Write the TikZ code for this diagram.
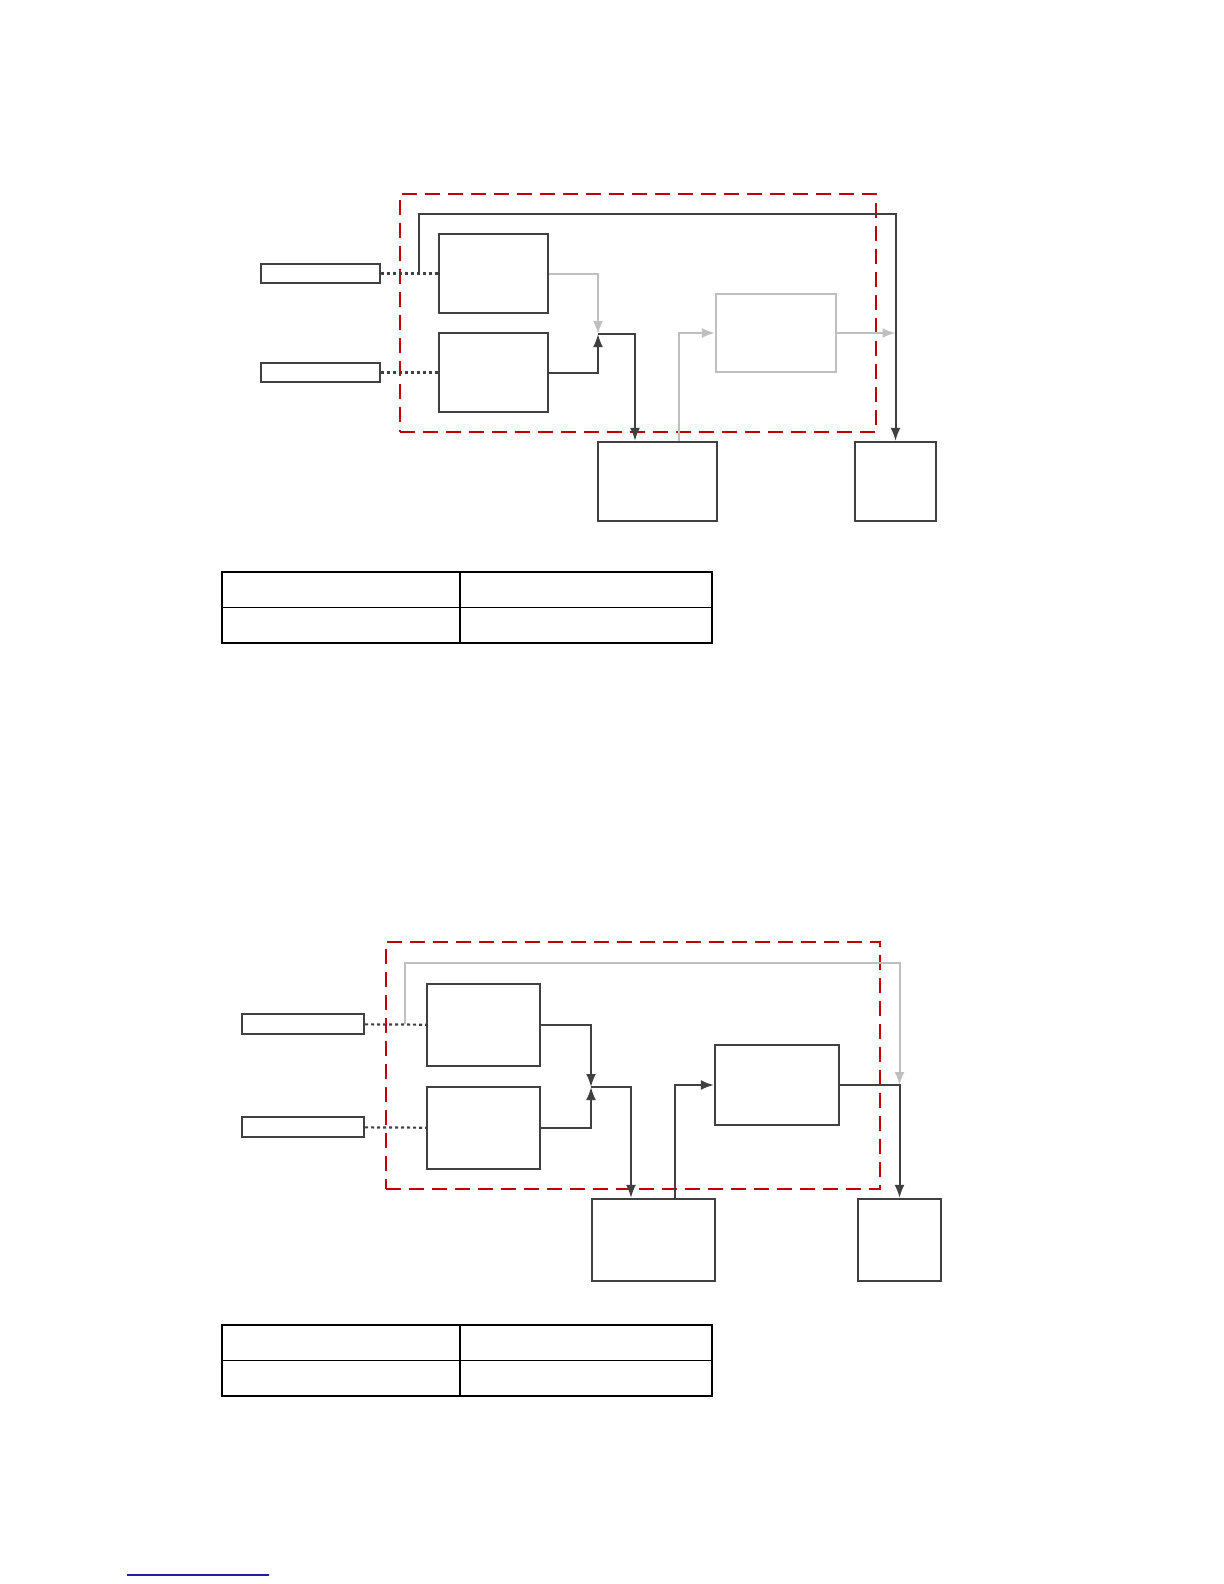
\documentclass[tikz,border=0pt]{standalone}
\usepackage{xcolor}
\usepackage{tikz}
\usetikzlibrary{arrows.meta,positioning}
\definecolor{linedark}{HTML}{404040}
\definecolor{linegray}{HTML}{BFBFBF}
\definecolor{framered}{HTML}{C00000}
\definecolor{linkblue}{HTML}{1F1F99}
\tikzset{
  blk/.style={rectangle,draw=linedark,line width=1.1pt,fill=white,inner sep=0pt},
  gblk/.style={blk,draw=linegray},
  inbar/.style={blk,minimum width=59.5pt,minimum height=9.5pt},
  frame/.style={rectangle,draw=framered,line width=1.1pt,dash pattern=on 7.5pt off 4pt,inner sep=0pt},
  tab/.style={rectangle,draw=black,line width=0.8pt,inner sep=0pt,minimum width=245pt,minimum height=35.5pt},
  arr/.style={-{Latex[length=6.5pt,width=5pt]},linedark,line width=1pt},
  garr/.style={arr,linegray},
  dots/.style={linedark,line width=1.1pt,dash pattern=on 1.5pt off 1.5pt},
}
\begin{document}
\begin{tikzpicture}[x=0.5pt,y=-0.5pt]
  \useasboundingbox (0,0) rectangle (1224,1584);
  % upper diagram
  \node[frame,minimum width=238pt,minimum height=119pt] (fr1) at (638,313) {};
  \node[inbar] (ia1) at (320.5,273.5) {};
  \node[inbar] (ib1) at (320.5,372.5) {};
  \node[blk,minimum width=54.5pt,minimum height=39.5pt] (a1) at (493.5,273.5) {};
  \node[blk,minimum width=54.5pt,minimum height=39.5pt] (b1) at (493.5,372.5) {};
  \node[gblk,minimum width=60pt,minimum height=39pt] (d1) at (776,333) {};
  \node[blk,minimum width=59.5pt,minimum height=39.5pt] (c1) at (657.5,481.5) {};
  \node[blk,minimum width=40.5pt,minimum height=39.5pt] (e1) at (895.5,481.5) {};
  \coordinate (j1) at (598,334);
  \coordinate (s1) at (419,273.5);
  \coordinate (tr1) at (895.5,214);
  \draw[dots] (ia1) -- (a1);
  \draw[dots] (ib1) -- (b1);
  \draw[arr] (s1) |- (tr1) -- (e1);
  \draw[garr] (a1.east) -| (j1);
  \draw[arr] (b1.east) -| (j1);
  \draw[arr] (j1) -| ([xshift=-11.25pt]c1.north);
  \draw[garr] ([xshift=10.75pt]c1.north) |- (d1.west);
  \draw[garr] (d1.east) -- (d1.east -| tr1);
  % upper table
  \node[tab] (tab1) at (467,607.5) {};
  \draw[line width=0.8pt] (tab1.west) -- (tab1.east);
  \draw[line width=0.8pt] ([xshift=-3.5pt]tab1.north) -- ([xshift=-3.5pt]tab1.south);
  % lower diagram
  \node[frame,minimum width=247pt,minimum height=123.5pt] (fr2) at (633,1065.5) {};
  \node[inbar,minimum width=61pt,minimum height=10pt] (ia2) at (303,1024) {};
  \node[inbar,minimum width=61pt,minimum height=10pt] (ib2) at (303,1127) {};
  \node[blk,minimum width=56.5pt,minimum height=41pt] (a2) at (483.5,1025) {};
  \node[blk,minimum width=56.5pt,minimum height=41pt] (b2) at (483.5,1128) {};
  \node[blk,minimum width=62pt,minimum height=40pt] (d2) at (777,1085) {};
  \node[blk,minimum width=61.5pt,minimum height=41pt] (c2) at (653.5,1240) {};
  \node[blk,minimum width=41.5pt,minimum height=41pt] (e2) at (899.5,1240) {};
  \coordinate (j2) at (591,1087);
  \coordinate (s2) at (405,1024);
  \coordinate (tr2) at (899.5,963);
  \coordinate (k2) at (899.5,1085);
  \draw[dots] (ia2) -- (a2);
  \draw[dots] (ib2) -- (b2);
  \draw[garr] (s2) |- (tr2) -- (k2);
  \draw[arr] (a2.east) -| (j2);
  \draw[arr] (b2.east) -| (j2);
  \draw[arr] (j2) -| ([xshift=-11.25pt]c2.north);
  \draw[arr] ([xshift=10.75pt]c2.north) |- (d2.west);
  \draw[arr] (d2.east) -| (e2.north);
  % lower table
  \node[tab] (tab2) at (467,1360.5) {};
  \draw[line width=0.8pt] (tab2.west) -- (tab2.east);
  \draw[line width=0.8pt] ([xshift=-3.5pt]tab2.north) -- ([xshift=-3.5pt]tab2.south);
  % link underline
  \coordinate (u1) at (127,1575);
  \coordinate (u2) at (269,1575);
  \draw[linkblue,line width=1pt] (u1) -- (u2);
\end{tikzpicture}
\end{document}
